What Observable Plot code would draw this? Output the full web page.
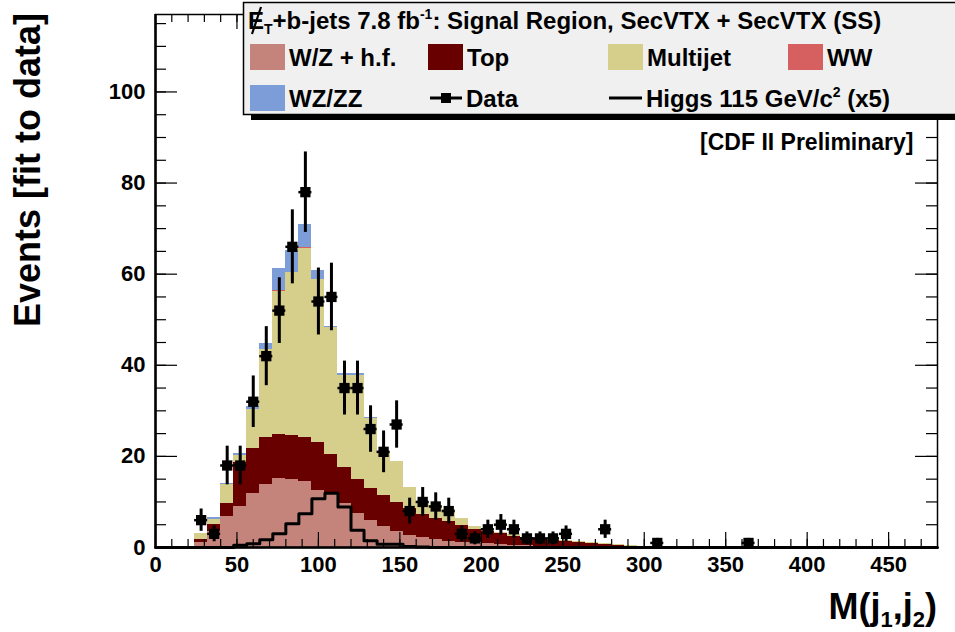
<!DOCTYPE html>
<html>
<head>
<meta charset="utf-8">
<script src="https://cdn.jsdelivr.net/npm/d3@7"></script>
<script src="https://cdn.jsdelivr.net/npm/@observablehq/plot@0.6"></script>
<style>
  html, body { margin: 0; padding: 0; background: white; }
  #chart { width: 955px; height: 632px; }
</style>
</head>
<body>
<div id="chart"></div>
<script>
// ---- Binning (lower edges, 8 GeV bins) ----
const binWidth = 8;
const binLow = [24, 32, 40, 48, 56, 64, 72, 80, 88, 96, 104, 112, 120, 128, 136, 144, 152, 160, 168, 176,
                184, 192, 200, 208, 216, 224, 232, 240, 248, 256, 264, 272, 280, 288, 296];

// ---- Stacked backgrounds (events per bin) ----
const wzhf     = [1.2, 3.5, 6.8, 8.9, 11.8, 13.8, 15.1, 14.9, 14.5, 12.5, 11.8, 9.6, 7.5, 5.9, 4.6, 3.5, 2.7, 2.2, 1.8, 1.4,
                  1.2, 1.0, 0.8, 0.6, 0.5, 0.4, 0.3, 0.25, 0.2, 0.15, 0.1, 0.1, 0.05, 0.05, 0];
const topq     = [0.5, 1.5, 2.9, 9.8, 9.9, 10.3, 9.7, 9.7, 9.6, 10.6, 8.6, 8.0, 7.5, 7.1, 6.9, 6.3, 5.8, 5.1, 4.5, 4.2,
                  3.6, 3.0, 2.7, 2.4, 2.0, 1.7, 1.5, 1.25, 1.1, 0.85, 0.7, 0.6, 0.45, 0.25, 0.1];
const multijet = [1.3, 1.1, 4.1, 1.5, 8.5, 19.4, 31.5, 35.7, 41.6, 35.7, 27.9, 20.2, 22.8, 15.3, 9.5, 9.0, 4.6, 2.7, 2.9, 2.8,
                  1.5, 0.6, 0.5, 0.4, 0.3, 0.2, 0.2, 0.3, 0.3, 0.3, 0.2, 0.2, 0.2, 0.2, 0.1];
const ww       = [0, 0, 0, 0, 0, 0, 0.1, 0.1, 0.1, 0.1, 0, 0, 0, 0, 0, 0, 0, 0, 0, 0,
                  0, 0, 0, 0, 0, 0, 0, 0, 0, 0, 0, 0, 0, 0, 0];
const wzzz     = [0, 0.4, 0.3, 0.5, 0.8, 1.3, 4.8, 4.8, 5.0, 1.8, 0.3, 0.3, 0.3, 0.2, 0.1, 0, 0, 0, 0, 0,
                  0, 0, 0, 0, 0, 0, 0, 0, 0, 0, 0, 0, 0, 0, 0];
// ---- Higgs 115 (x5) ----
const higgs    = [0, 0, 0, 0.5, 0.8, 1.7, 3.0, 5.2, 7.4, 10.7, 11.9, 8.9, 3.8, 1.5, 0.7, 0.7, 0.2, 0.1, 0, 0,
                  0, 0, 0, 0, 0, 0, 0, 0, 0, 0, 0, 0, 0, 0, 0];

// ---- Data (bin centres with non-zero counts) ----
const dataX = [28, 36, 44, 52, 60, 68, 76, 84, 92, 100, 108, 116, 124, 132, 140, 148, 156, 164, 172, 180,
               188, 196, 204, 212, 220, 228, 236, 244, 252, 276, 308, 364];
const dataN = [6, 3, 18, 18, 32, 42, 52, 66, 78, 54, 55, 35, 35, 26, 21, 27, 8, 10, 9, 8,
               3, 2, 4, 5, 4, 2, 2, 2, 3, 4, 1, 1];

// ---- Names, colours, ticks, texts ----
const stackNames  = ["W/Z + h.f.", "Top", "Multijet", "WW", "WZ/ZZ"];
const stackColors = ["#c4847c", "#680000", "#d5cf8b", "#d65f5f", "#7c9dd8"];
const xTicks = [0, 50, 100, 150, 200, 250, 300, 350, 400, 450];
const yTicks = [0, 20, 40, 60, 80, 100];
const xDomain = [0, 480];
const yDomain = [0, 117];
const legendTitle = ["E", "T", "+b-jets 7.8 fb", "-1", ": Signal Region, SecVTX + SecVTX (SS)"];
const dataLabel = "Data";
const higgsLabel = ["Higgs 115 GeV/c", "2", " (x5)"];
const prelimLabel = "[CDF II Preliminary]";
const yTitle = "Events [fit to data]";

// ---- Build tables ----
const seriesValues = [wzhf, topq, multijet, ww, wzzz];
const rows = [];
stackNames.forEach((name, s) => {
  binLow.forEach((b, i) => rows.push({x1: b, x2: b + binWidth, v: seriesValues[s][i], name}));
});
const higgsPts = [{x: xDomain[0], v: 0}];
binLow.forEach((b, i) => higgsPts.push({x: b, v: higgs[i]}));
higgsPts.push({x: binLow[binLow.length - 1] + binWidth, v: 0});
higgsPts.push({x: xDomain[1], v: 0});
const dataRows = dataX.map((x, i) => ({x, n: dataN[i], lo: Math.max(0, dataN[i] - Math.sqrt(dataN[i])), hi: dataN[i] + Math.sqrt(dataN[i])}));

const xMinor = d3.range(10, 480, 10);
const yMinor = d3.range(5, 117, 5);
const FW = 955 - 155 - 18, FH = 632 - 14 - 85;

const chart = Plot.plot({
  width: 955, height: 632,
  marginLeft: 155, marginRight: 18, marginTop: 14, marginBottom: 85,
  style: {fontFamily: "'Liberation Sans', Arial, Helvetica, sans-serif", background: "white", color: "black"},
  x: {domain: xDomain, axis: null},
  y: {domain: yDomain, axis: null},
  color: {domain: stackNames, range: stackColors},
  marks: [
    Plot.rectY(rows, {x1: "x1", x2: "x2", y: "v", fill: "name", order: stackNames, shapeRendering: "crispEdges"}),
    Plot.line(higgsPts, {x: "x", y: "v", curve: "step-after", stroke: "black", strokeWidth: 3}),
    Plot.ruleX(dataRows, {x: "x", y1: "lo", y2: "hi", stroke: "black", strokeWidth: 3}),
    Plot.ruleY(dataRows, {y: "n", x1: d => d.x - binWidth / 2, x2: d => d.x + binWidth / 2, stroke: "black", strokeWidth: 2.5}),
    Plot.dot(dataRows, {x: "x", y: "n", symbol: "square", fill: "black", r: 5.8}),
    // inner ticks: bottom / top
    Plot.tickX(xMinor, {insetTop: FH - 8, stroke: "black", strokeWidth: 1.2}),
    Plot.tickX(xTicks, {insetTop: FH - 15, stroke: "black", strokeWidth: 1.2}),
    Plot.tickX(xMinor, {insetBottom: FH - 8, stroke: "black", strokeWidth: 1.2}),
    Plot.tickX(xTicks, {insetBottom: FH - 15, stroke: "black", strokeWidth: 1.2}),
    // inner ticks: left / right
    Plot.tickY(yMinor, {insetRight: FW - 11, stroke: "black", strokeWidth: 1.2}),
    Plot.tickY(yTicks, {insetRight: FW - 22, stroke: "black", strokeWidth: 1.2}),
    Plot.tickY(yMinor, {insetLeft: FW - 11, stroke: "black", strokeWidth: 1.2}),
    Plot.tickY(yTicks, {insetLeft: FW - 22, stroke: "black", strokeWidth: 1.2}),
    Plot.frame({stroke: "black", strokeWidth: 1.5}),
    Plot.ruleY([0], {stroke: "black", strokeWidth: 2.5}),
    Plot.ruleX([0], {stroke: "black", strokeWidth: 2.5}),
    Plot.axisX({ticks: xTicks, tickSize: 0, tickPadding: 9, tickFormat: d3.format("d"), fontSize: 22, fontWeight: "bold", label: null}),
    Plot.axisY({ticks: yTicks, tickSize: 0, tickPadding: 10, tickFormat: d3.format("d"), fontSize: 22, fontWeight: "bold", label: null}),
    Plot.text([prelimLabel], {text: d => d, frameAnchor: "top-right", textAnchor: "end", dx: -24, dy: 119, fontSize: 23, fontWeight: "bold", lineAnchor: "top"})
  ]
});
document.getElementById("chart").appendChild(chart);

// ---- Titles and legend ----
const svg = d3.select(chart);
const font = "'Liberation Sans', Arial, Helvetica, sans-serif";

// y title
svg.append("text")
  .attr("transform", "translate(40,13) rotate(-90)")
  .attr("text-anchor", "end")
  .attr("font-family", font).attr("font-weight", "bold").attr("font-size", 36)
  .attr("fill", "black")
  .text(yTitle);

// x title M(j1,j2)
const xt = svg.append("text")
  .attr("x", 937).attr("y", 619)
  .attr("text-anchor", "end")
  .attr("font-family", font).attr("font-weight", "bold").attr("font-size", 36)
  .attr("fill", "black");
xt.append("tspan").text("M(j");
xt.append("tspan").attr("font-size", 22).attr("dy", 8).text("1");
xt.append("tspan").attr("dy", -8).text(",j");
xt.append("tspan").attr("font-size", 22).attr("dy", 8).text("2");
xt.append("tspan").attr("dy", -8).text(")");

// legend box
const lg = svg.append("g").attr("font-family", font).attr("font-weight", "bold").attr("fill", "black").attr("text-anchor", "start");
lg.append("rect").attr("x", 251).attr("y", 8).attr("width", 760).attr("height", 112).attr("fill", "black");
lg.append("rect").attr("x", 243.5).attr("y", 2.5).attr("width", 760).attr("height", 112)
  .attr("fill", "#f0f0f0").attr("stroke", "black").attr("stroke-width", 1.5);

// legend header
const ht = lg.append("text").attr("x", 248).attr("y", 29).attr("font-size", 24).attr("text-anchor", "start");
ht.append("tspan").text(legendTitle[0]);
ht.append("tspan").attr("font-size", 14).attr("dy", 5).text(legendTitle[1]);
ht.append("tspan").attr("dy", -5).text(legendTitle[2]);
ht.append("tspan").attr("font-size", 14).attr("dy", -10).text(legendTitle[3]);
ht.append("tspan").attr("dy", 10).text(legendTitle[4]);
lg.append("line").attr("x1", 261).attr("y1", 7).attr("x2", 252).attr("y2", 34).attr("stroke", "black").attr("stroke-width", 2.2);

// legend entries
const colX = [250, 428, 608, 788];
const rowY = [57, 98];
const swatches = [
  {name: stackNames[0], color: stackColors[0], c: 0, r: 0},
  {name: stackNames[1], color: stackColors[1], c: 1, r: 0},
  {name: stackNames[2], color: stackColors[2], c: 2, r: 0},
  {name: stackNames[3], color: stackColors[3], c: 3, r: 0},
  {name: stackNames[4], color: stackColors[4], c: 0, r: 1}
];
swatches.forEach(s => {
  lg.append("rect").attr("x", colX[s.c]).attr("y", rowY[s.r] - 13).attr("width", 35).attr("height", 26).attr("fill", s.color);
  lg.append("text").attr("x", colX[s.c] + 39).attr("y", rowY[s.r] + 8.5).attr("font-size", 24).attr("text-anchor", "start").text(s.name);
});
// Data entry
lg.append("line").attr("x1", colX[1] + 2).attr("x2", colX[1] + 34).attr("y1", rowY[1]).attr("y2", rowY[1]).attr("stroke", "black").attr("stroke-width", 3);
lg.append("rect").attr("x", colX[1] + 13).attr("y", rowY[1] - 5).attr("width", 10).attr("height", 10).attr("fill", "black");
lg.append("text").attr("x", colX[1] + 38).attr("y", rowY[1] + 8.5).attr("font-size", 24).attr("text-anchor", "start").text(dataLabel);
// Higgs entry
lg.append("line").attr("x1", colX[2] + 1).attr("x2", colX[2] + 34).attr("y1", rowY[1]).attr("y2", rowY[1]).attr("stroke", "black").attr("stroke-width", 3);
const hg = lg.append("text").attr("x", colX[2] + 38).attr("y", rowY[1] + 8.5).attr("font-size", 24).attr("text-anchor", "start");
hg.append("tspan").text(higgsLabel[0]);
hg.append("tspan").attr("font-size", 14).attr("dy", -10).text(higgsLabel[1]);
hg.append("tspan").attr("dy", 10).text(higgsLabel[2]);
</script>
</body>
</html>
